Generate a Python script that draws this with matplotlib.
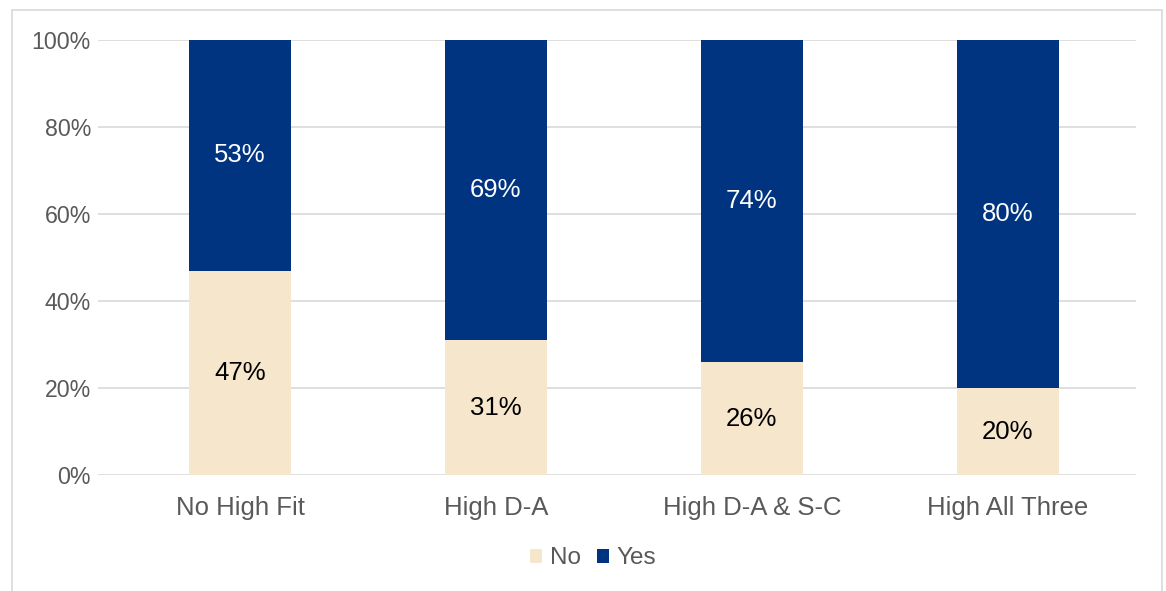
import numpy as np
import matplotlib.pyplot as plt
from matplotlib.patches import Rectangle

plt.rcParams['font.family'] = ['Liberation Sans', 'DejaVu Sans']

categories = ["No High Fit", "High D-A", "High D-A & S-C", "High All Three"]
no_vals = [47, 31, 26, 20]
yes_vals = [53, 69, 74, 80]

NAVY = "#003380"
BEIGE = "#F6E6CC"
GRAY = "#595959"


def main():
    fig = plt.figure(figsize=(11.66, 5.91), dpi=100)
    ax = fig.add_axes([0.084, 0.196, 0.890, 0.736])

    x = np.arange(len(categories))
    no = np.array(no_vals)
    yes = np.array(yes_vals)
    ax.bar(x, no, width=0.4, color=BEIGE, label="No", zorder=2)
    ax.bar(x, yes, width=0.4, bottom=no, color=NAVY, label="Yes", zorder=2)

    for i in range(len(x)):
        ax.text(x[i], no[i] / 2, "%d%%" % no[i], ha="center", va="center",
                fontsize=18.5, color="black", zorder=3)
        ax.text(x[i], no[i] + yes[i] / 2, "%d%%" % yes[i], ha="center", va="center",
                fontsize=18.5, color="white", zorder=3)

    ax.set_xlim(-0.555, 3.5)
    ax.set_ylim(0, 100)
    ax.set_yticks(np.arange(0, 101, 20))
    ax.set_yticklabels(["%d%%" % v for v in range(0, 101, 20)])
    ax.set_xticks(x)
    ax.set_xticklabels(categories)
    ax.tick_params(axis="both", length=0, colors=GRAY)
    ax.tick_params(axis="y", pad=5, labelsize=16.7)
    ax.tick_params(axis="x", pad=15, labelsize=18.5)
    ax.grid(axis="y", color="#D9D9D9", linewidth=1.2, zorder=0)
    for s in ax.spines.values():
        s.set_visible(False)

    leg = fig.legend(loc="center", bbox_to_anchor=(0.5086, 0.055), ncol=2, frameon=False,
                     fontsize=17.5, handlelength=0.5, handleheight=0.5, handletextpad=0.3,
                     columnspacing=0.66)
    for t in leg.get_texts():
        t.set_color(GRAY)

    # outer chart frame
    fig.patches.append(Rectangle((12 / 1166, -0.01), 1150 / 1166, 1 - 10 / 591 + 0.01,
                                 transform=fig.transFigure, fill=False,
                                 edgecolor="#D9D9D9", linewidth=1.2))

    fig.savefig("out.png", dpi=100)


if __name__ == '__main__':
    main()
